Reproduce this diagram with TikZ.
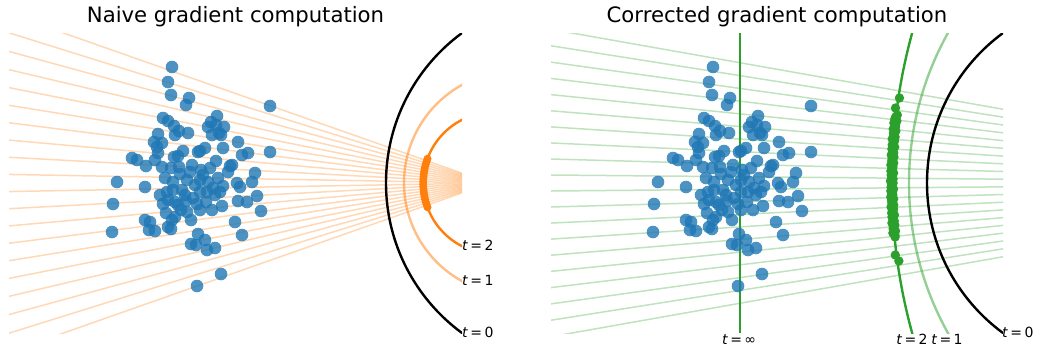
\documentclass[tikz,border=0pt]{standalone}
\usepackage{fontspec}
\setmainfont{DejaVu Sans}
\definecolor{tabblue}{HTML}{1F77B4}
\definecolor{taborange}{HTML}{FF7F0E}
\definecolor{tabgreen}{HTML}{2CA02C}
\def\mydots{172/67, 168/82, 171/95, 189/98, 186/105, 270/106, 163/118, 168/121, 217/116, 211/122, 216/125, 224/127, 208/127, 219/133, 212/135, 221/135, 174/126, 179/131, 188/133, 175/135, 158/134, 154/142, 162/143, 157/147, 238/142, 223/148, 183/151, 200/151, 205/148, 198/152, 270/152, 248/153, 242/155, 132/158, 137/160, 158/153, 155/160, 174/157, 178/156, 216/161, 232/165, 230/166, 146/166, 162/167, 171/168, 179/167, 201/170, 255/173, 252/182, 237/183, 240/187, 117/182, 145/187, 180/174, 173/182, 187/180, 195/185, 203/175, 208/182, 218/178, 223/186, 213/188, 207/192, 200/192, 182/190, 173/190, 167/192, 160/195, 257/196, 247/202, 238/201, 113/204, 163/204, 175/202, 186/201, 197/204, 206/202, 200/210, 222/206, 261/211, 187/212, 166/213, 175/217, 191/220, 145/220, 150/222, 172/220, 235/222, 168/227, 149/230, 155/231, 112/232, 171/229, 242/235, 198/234, 205/240, 191/244, 196/245, 207/250, 215/248, 221/274, 197/286, 190/172, 210/168, 185/195, 215/195, 178/205, 193/198, 228/172, 165/178, 200/180, 212/210, 181/210, 220/192, 192/165, 168/200}
\begin{document}
\begin{tikzpicture}[x=1pt,y=-1pt,
  ray/.style={line width=1.5pt,opacity=0.3},
  arcline/.style={line width=2.4pt},
  lbl/.style={font=\fontsize{14}{16}\selectfont,inner sep=0pt},
  ttl/.style={font=\fontsize{21.2}{25}\selectfont,inner sep=0pt},
  pt/.style={fill=tabblue,opacity=0.8},
  odot/.style={fill=taborange},
  gdot/.style={fill=tabgreen}]
\useasboundingbox (0,0) rectangle (1041,348);
% titles
\node[ttl,anchor=base] (ttlA) at (235.5,22.7) {Naive gradient computation};
\node[ttl,anchor=base] (ttlB) at (777,22.7) {Corrected gradient computation};
% ---------------- left panel ----------------
\begin{scope}
\clip (9,33) rectangle (462,333);
\foreach \a in {1.02,3.06,5.10,7.14,9.18,11.22,13.26,15.30,17.34,19.38}{
  \draw[ray,taborange] (490,183) -- (9,{183-481*tan(\a)});
  \draw[ray,taborange] (490,183) -- (9,{183+481*tan(\a)});
}
\draw[arcline,taborange,opacity=0.5] (516,183) circle (112);
\draw[arcline,taborange] (494,183) circle (70.8);
\draw[arcline,black] (572,183) circle (186);
\foreach \d in {1.3,3.9,6.5,9,11.6,14.1,16.6,19.2,21.7,24.3}{
  \fill[odot] ({494-sqrt(5013-\d*\d)},{183+\d}) circle (4);
  \fill[odot] ({494-sqrt(5013-\d*\d)},{183-\d}) circle (4);
}
\foreach \x/\y in \mydots \fill[pt] (\x,\y) circle (6.3);
\end{scope}
\node[lbl,anchor=base west] (lA2) at (462,250) {\textit{t}\,=\,2};
\node[lbl,anchor=base west] (lA1) at (462,285.7) {\textit{t}\,=\,1};
\node[lbl,anchor=base west] (lA0) at (462,337.3) {\textit{t}\,=\,0};
% ---------------- right panel ----------------
\begin{scope}
\clip (551,33) rectangle (1003,333);
\foreach \a in {0.528,1.584,2.640,3.696,4.752,5.808,6.864,7.920,8.976,10.032}{
  \draw[ray,tabgreen] (1420,183) -- (551,{183-869*tan(\a)});
  \draw[ray,tabgreen] (1420,183) -- (551,{183+869*tan(\a)});
}
\draw[arcline,tabgreen,opacity=0.5] (1217,183) circle (308);
\draw[arcline,tabgreen] (1457,183) circle (565);
\draw[arcline,black] (1113,183) circle (186);
\draw[arcline,tabgreen] (740,33) -- (740,333);
\foreach \y [count=\i] in {98,108,115,117,...,237,255,261}{
  \fill[gdot] ({1457-565*sqrt(1-((\y-183)/565)^2)+1.5*sin(\i*137.5)},\y) circle (4.7);
}
\foreach \x/\y in \mydots \fill[pt] ({\x+541},\y) circle (6.3);
\end{scope}
\node[lbl,anchor=base] (lBi) at (739,344) {\textit{t}\,=\,∞};
\node[lbl,anchor=base] (lB2) at (912,344) {\textit{t}\,=\,2};
\node[lbl,anchor=base] (lB1) at (947,344) {\textit{t}\,=\,1};
\node[lbl,anchor=base west] (lB0) at (1002,337.5) {\textit{t}\,=\,0};
\end{tikzpicture}
\end{document}
